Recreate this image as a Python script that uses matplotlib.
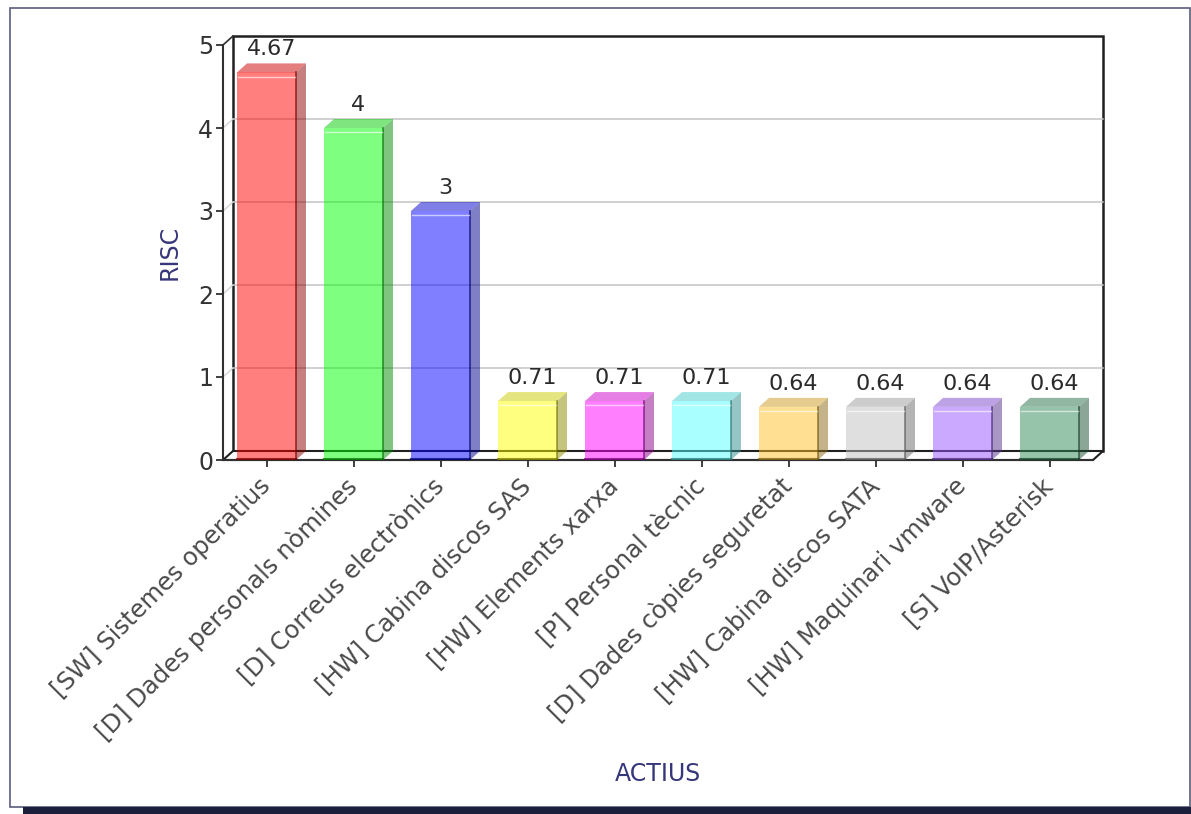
import matplotlib.pyplot as plt
from matplotlib.patches import Polygon, Rectangle
from matplotlib.colors import to_rgb

actius = ['[SW] Sistemes operatius', '[D] Dades personals nòmines',
          '[D] Correus electrònics', '[HW] Cabina discos SAS',
          '[HW] Elements xarxa', '[P] Personal tècnic',
          '[D] Dades còpies seguretat', '[HW] Cabina discos SATA',
          '[HW] Maquinari vmware', '[S] VoIP/Asterisk']
risc = [4.67, 4, 3, 0.71, 0.71, 0.71, 0.64, 0.64, 0.64, 0.64]
colors = ['#ff0000', '#00ff00', '#0000ff', '#ffff00', '#ff00ff',
          '#55ffff', '#ffc125', '#c0c0c0', '#9955ff', '#2e8b57']

W, H = 1191, 814
fig = plt.figure(figsize=(W / 100, H / 100), dpi=100)

# outer frame + shadow strip at the bottom
fig.patches.append(Rectangle((10 / W, 7 / H), 1180 / W, 799 / H, transform=fig.transFigure,
                             fill=False, edgecolor='#5a5c7c', lw=1.2))
fig.patches.append(Rectangle((23 / W, 0), 1 - 23 / W, 7 / H, transform=fig.transFigure,
                             facecolor='#1b1f3b', edgecolor='none'))

ax_l, ax_r, ax_b, ax_t = 223, 1093, 460, 45
ax = fig.add_axes([ax_l / W, (H - ax_b) / H, (ax_r - ax_l) / W, (ax_b - ax_t) / H])
ax.set_xlim(-0.5, len(actius) - 0.5)
ax.set_ylim(0, 5)

# 3D depth in data units (10 px right, 9 px up)
DX = 10 / ((ax_r - ax_l) / len(actius))
DY = 9 / ((ax_b - ax_t) / 5)
x0, x1 = -0.5, len(actius) - 0.5

# back wall
ax.add_patch(Polygon([(x0 + DX, DY), (x1 + DX, DY), (x1 + DX, 5 + DY), (x0 + DX, 5 + DY)],
                     closed=True, facecolor='white', edgecolor='#202020', lw=1.8,
                     clip_on=False, zorder=1))
for v in range(1, 5):
    ax.plot([x0 + DX, x1 + DX], [v + DY, v + DY], color='#c4c4c4', lw=1.1, zorder=1.5, clip_on=False)
    ax.plot([x0, x0 + DX], [v, v + DY], color='#d0d0d0', lw=0.9, zorder=1.5, clip_on=False)

# floor
ax.add_patch(Polygon([(x0, 0), (x1, 0), (x1 + DX, DY), (x0 + DX, DY)], closed=True,
                     facecolor='white', edgecolor='#202020', lw=1.5, clip_on=False, zorder=1.6))
ax.plot([x0, x0 + DX], [5, 5 + DY], color='#303030', lw=1.2, clip_on=False, zorder=1.6)

# bars
w = 59 / ((ax_r - ax_l) / len(actius))
xs = list(range(len(actius)))
for x, v, c in zip(xs, risc, colors):
    r, g, b = to_rgb(c)
    side = (r * 0.55, g * 0.55, b * 0.55)
    top = (r * 0.8, g * 0.8, b * 0.8)
    edge = (r * 0.45, g * 0.45, b * 0.45, 0.7)
    ax.add_patch(Polygon([(x + w / 2, 0), (x + w / 2 + DX, DY), (x + w / 2 + DX, v + DY), (x + w / 2, v)],
                         closed=True, facecolor=side, alpha=0.5, edgecolor='none', zorder=3))
    ax.add_patch(Polygon([(x - w / 2, v), (x - w / 2 + DX, v + DY), (x + w / 2 + DX, v + DY), (x + w / 2, v)],
                         closed=True, facecolor=top, alpha=0.5, edgecolor='none', zorder=3))
    ax.bar(x, v, width=w, color=c, alpha=0.5, edgecolor='none', zorder=3)
    ax.plot([x + w / 2, x + w / 2], [0, v], color=edge, lw=1.2, zorder=3.2)
    ax.plot([x - w / 2, x + w / 2], [0.015, 0.015], color=edge, lw=1.5, zorder=3.2)
    ax.plot([x - w / 2 + 0.01, x + w / 2 - 0.01], [v - 0.05, v - 0.05], color='white', lw=1.0,
            alpha=0.6, zorder=3.3)
    ax.text(x + DX / 2, v + DY + 0.05, f'{v:g}', ha='center', va='bottom', fontsize=16,
            color='#2a2a2a', zorder=4, clip_on=False)

# axes, ticks, labels
for s in ['top', 'right']:
    ax.spines[s].set_visible(False)
for s in ['left', 'bottom']:
    ax.spines[s].set_color('#303030')
    ax.spines[s].set_linewidth(1.5)
    ax.spines[s].set_zorder(2)
ax.patch.set_visible(False)
ax.set_yticks(range(6))
ax.set_xticks(xs)
ax.set_xticklabels(actius, rotation=45, ha='right', va='center', rotation_mode='anchor',
                   fontsize=17.5, color='#4a4a4a')
ax.tick_params(axis='x', length=5, width=1.3, color='#303030', pad=11)
ax.tick_params(axis='y', length=5, width=1.3, color='#303030', labelsize=17,
               labelcolor='#333333', pad=2)
ax.set_ylabel('RISC', fontsize=17, color='#36367a', labelpad=12)
fig.text(658 / W, 1 - 774 / H, 'ACTIUS', ha='center', va='center', fontsize=17, color='#36367a')

fig.savefig('out.png', dpi=100)
